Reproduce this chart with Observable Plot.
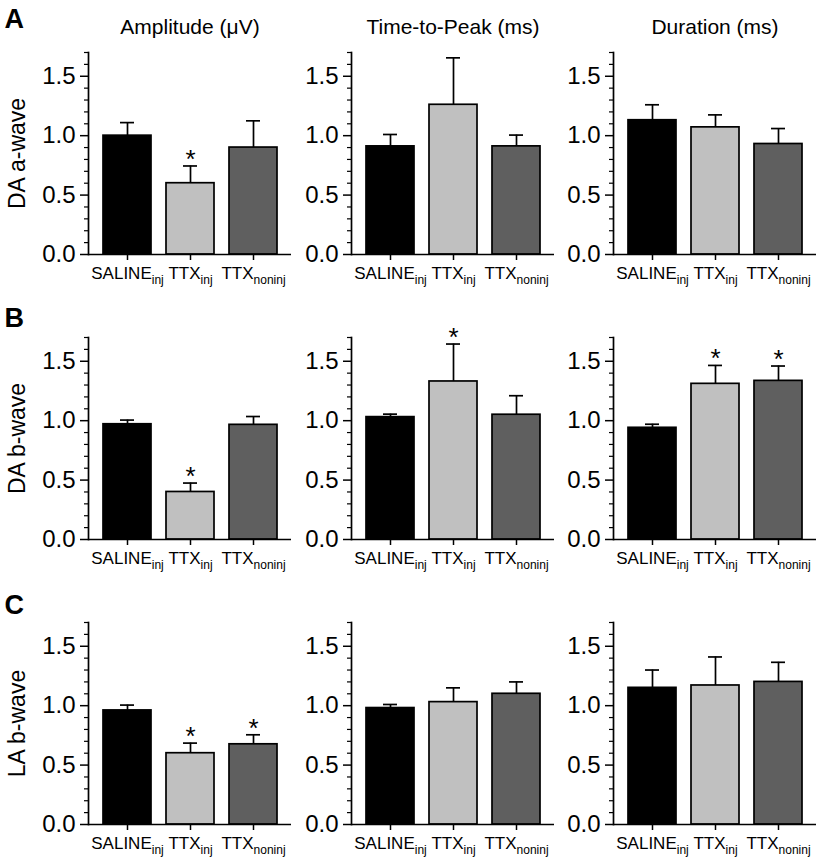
<!DOCTYPE html>
<html>
<head>
<meta charset="utf-8">
<script src="https://cdn.jsdelivr.net/npm/d3@7"></script>
<script src="https://cdn.jsdelivr.net/npm/@observablehq/plot@0.6"></script>
<style>
  body { margin: 0; background: white; }
  #chart { position: relative; width: 822px; height: 867px; overflow: hidden; font-family: "Liberation Sans", Arial, sans-serif; }
  #chart svg { position: absolute; }
</style>
</head>
<body>
<div id="chart"></div>
<script>
// ---- data ----
const groupKeys = ["SALINE_inj", "TTX_inj", "TTX_noninj"];
const groupNames = ["SALINE", "TTX", "TTX"];
const groupSubs = ["inj", "inj", "noninj"];
const groupFills = ["#000000", "#c0c0c0", "#5f5f5f"];
const measures = ["Amplitude (μV)", "Time-to-Peak (ms)", "Duration (ms)"];
const rowLabels = ["DA a-wave", "DA b-wave", "LA b-wave"];
const panelLetters = ["A", "B", "C"];
const yMajorTicks = [0, 0.5, 1.0, 1.5];
const yMinorTicks = [0.1, 0.2, 0.3, 0.4, 0.6, 0.7, 0.8, 0.9, 1.1, 1.2, 1.3, 1.4, 1.6, 1.7];

// mean values per measure (Amplitude, Time-to-Peak, Duration), groups in groupKeys order
const daAwaveMean = [[1.00, 0.60, 0.90], [0.91, 1.26, 0.91], [1.13, 1.07, 0.93]];
const daAwaveSem  = [[0.11, 0.145, 0.225], [0.10, 0.395, 0.095], [0.13, 0.105, 0.13]];
const daAwaveSig  = [[0, 1, 0], [0, 0, 0], [0, 0, 0]];

const daBwaveMean = [[0.97, 0.40, 0.965], [1.03, 1.33, 1.05], [0.94, 1.31, 1.335]];
const daBwaveSem  = [[0.035, 0.075, 0.07], [0.025, 0.315, 0.16], [0.03, 0.155, 0.125]];
const daBwaveSig  = [[0, 1, 0], [0, 1, 0], [0, 1, 1]];

const laBwaveMean = [[0.96, 0.60, 0.675], [0.98, 1.03, 1.10], [1.15, 1.17, 1.20]];
const laBwaveSem  = [[0.045, 0.085, 0.08], [0.03, 0.12, 0.10], [0.15, 0.24, 0.165]];
const laBwaveSig  = [[0, 1, 1], [0, 0, 0], [0, 0, 0]];

const rowMeans = [daAwaveMean, daBwaveMean, laBwaveMean];
const rowSems = [daAwaveSem, daBwaveSem, laBwaveSem];
const rowSigs = [daAwaveSig, daBwaveSig, laBwaveSig];

// ---- layout ----
const colAxisX = [88, 351, 613];
const rowTop = [0, 285, 570];
const frameW = 203;
const letterDy = [-33, -19, -17];

const chart = document.getElementById("chart");

function panel(r, c) {
  const data = groupKeys.map((k, i) => ({
    group: k,
    mean: rowMeans[r][c][i],
    top: rowMeans[r][c][i] + rowSems[r][c][i],
    sig: rowSigs[r][c][i] === 1
  }));
  const first = c === 0;
  const ml = first ? 88 : 60;
  const mr = 5;
  const marks = [
    Plot.barY(data, {x: "group", y: "mean", fill: "group", stroke: "black", strokeWidth: 1.7}),
    Plot.ruleX(data, {x: "group", y1: "mean", y2: "top", stroke: "black", strokeWidth: 1.7}),
    Plot.tickY(data, {x: "group", y: "top", stroke: "black", strokeWidth: 1.7, insetLeft: 17, insetRight: 17}),
    Plot.text(data.filter(d => d.sig), {x: "group", y: "top", text: () => "*", fontSize: 26, lineAnchor: "bottom", dy: 2, fill: "black"}),
    Plot.ruleY([0], {stroke: "black", strokeWidth: 1.7}),
    Plot.frame({anchor: "left", stroke: "black", strokeWidth: 1.7}),
    Plot.axisY(yMinorTicks, {tickSize: 4, text: null, strokeWidth: 1.2, label: null}),
    Plot.axisY(yMajorTicks, {
      tickSize: 8, tickPadding: 5, fontSize: 24, strokeWidth: 1.5,
      tickFormat: d3.format(".1f"),
      label: first ? rowLabels[r] : null, labelAnchor: "center", labelOffset: 80, labelArrow: "none"
    }),
    Plot.axisX({
      tickSize: 6, tickPadding: 6, fontSize: 17, strokeWidth: 1.5,
      tickFormat: d => groupNames[groupKeys.indexOf(d)], label: null
    })
  ];
  if (r === 0) {
    marks.push(Plot.text([measures[c]], {frameAnchor: "top", text: d => d, dy: -25, lineAnchor: "middle", fontSize: 21, fill: "black"}));
  }
  if (first) {
    marks.push(Plot.text([panelLetters[r]], {frameAnchor: "top-left", text: d => d, dx: -84, dy: letterDy[r], textAnchor: "start", lineAnchor: "middle", fontSize: 27, fontWeight: "bold", fill: "black"}));
  }
  const svg = Plot.plot({
    width: ml + frameW + mr,
    height: 297,
    marginTop: 52,
    marginBottom: 43,
    marginLeft: ml,
    marginRight: mr,
    x: {domain: groupKeys, paddingInner: 0.244, paddingOuter: 0.22, axis: null},
    y: {domain: [0, 1.7], axis: null},
    color: {domain: groupKeys, range: groupFills},
    style: {fontFamily: "'Liberation Sans', Arial, sans-serif", background: "transparent", overflow: "visible", color: "black"},
    marks
  });
  // the row label
  svg.querySelectorAll('g[aria-label="y-axis label"] text').forEach(t => t.setAttribute("font-size", "23"));
  // subscripts on the x tick labels
  const labels = svg.querySelectorAll('g[aria-label="x-axis tick label"] text');
  labels.forEach((t, i) => {
    t.textContent = groupNames[i];
    const ts = document.createElementNS("http://www.w3.org/2000/svg", "tspan");
    ts.setAttribute("font-size", "12");
    ts.setAttribute("dy", "5");
    ts.setAttribute("fill", "black");
    ts.textContent = groupSubs[i];
    t.appendChild(ts);
  });
  svg.style.left = (colAxisX[c] - ml) + "px";
  svg.style.top = rowTop[r] + "px";
  chart.appendChild(svg);
}

for (let r = 0; r < 3; r++) for (let c = 0; c < 3; c++) panel(r, c);
</script>
</body>
</html>
